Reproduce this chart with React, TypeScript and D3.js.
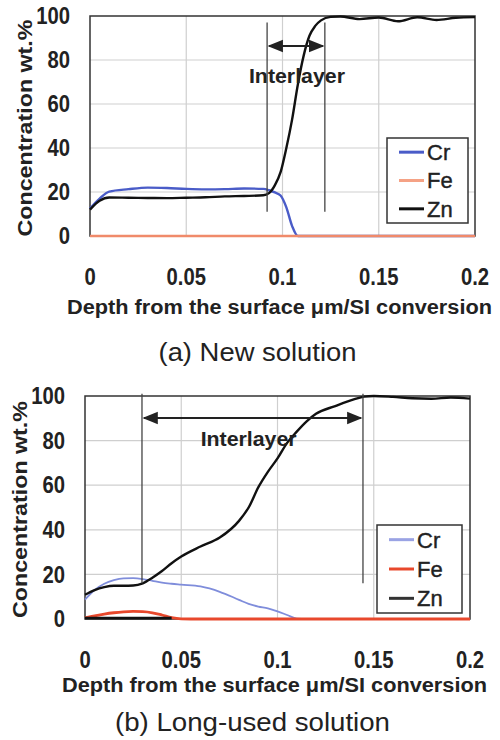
import React from 'react';
import * as d3 from 'd3';

// ---- panel (a): new solution ----
const depthA = [0, 0.005, 0.01, 0.02, 0.03, 0.04, 0.05, 0.06, 0.07, 0.08, 0.09, 0.093, 0.096, 0.099, 0.102, 0.105, 0.108, 0.111, 0.114, 0.117, 0.12, 0.125, 0.13, 0.14, 0.15, 0.16, 0.17, 0.18, 0.19, 0.2];
const znA = [12, 16, 17.5, 17.4, 17.3, 17.2, 17.4, 17.6, 18, 18.2, 18.5, 19.5, 23, 29, 40, 53, 69, 82, 91, 95.5, 98, 99.6, 99.8, 98.6, 99.3, 97.6, 99.4, 98.2, 99.2, 99.5];
const crA = [12.5, 17, 20.2, 21.3, 22, 21.8, 21.4, 21.2, 21.3, 21.6, 21.4, 20.8, 19.8, 18.4, 13, 4.5, 0, 0, 0, 0, 0, 0, 0, 0, 0, 0, 0, 0, 0, 0];
const feA = [0, 0, 0, 0, 0, 0, 0, 0, 0, 0, 0, 0, 0, 0, 0, 0, 0, 0, 0, 0, 0, 0, 0, 0, 0, 0, 0, 0, 0, 0];
const interA = [0.092, 0.122]; // interlayer bounds (depth)
const interSpanA = [11, 97]; // vertical extent of the marker lines (wt.%)

// ---- panel (b): long-used solution ----
const depthB = [0, 0.005, 0.01, 0.015, 0.02, 0.025, 0.03, 0.035, 0.04, 0.045, 0.05, 0.06, 0.07, 0.08, 0.085, 0.09, 0.095, 0.1, 0.105, 0.11, 0.115, 0.12, 0.13, 0.14, 0.145, 0.15, 0.16, 0.17, 0.18, 0.19, 0.2];
const znB = [10.9, 13, 14.3, 14.9, 14.9, 15, 16, 18.5, 21.5, 25, 28, 32.5, 36.5, 44, 50, 59, 66, 72, 79, 84, 88.5, 92, 95.5, 98.6, 99.7, 100, 99.6, 99, 98.8, 99.3, 98.8];
const crB = [8.7, 13, 15.8, 17.4, 18.2, 18.3, 17.9, 17.1, 16.3, 15.8, 15.4, 14.6, 12.2, 8.6, 6.8, 5.6, 4.8, 3.4, 1.8, 0.2, 0, 0, 0, 0, 0, 0, 0, 0, 0, 0, 0];
const feB = [0.5, 1.4, 2.2, 2.8, 3.2, 3.4, 3.3, 2.8, 1.8, 0.6, 0.1, 0, 0, 0, 0, 0, 0, 0, 0, 0, 0, 0, 0, 0, 0, 0, 0, 0, 0, 0, 0];
const residueB = [0.4, 0.4, 0.4, 0.4, 0.4, 0.4, 0.4, 0.4, 0.4, 0.4, NaN, NaN, NaN, NaN, NaN, NaN, NaN, NaN, NaN, NaN, NaN, NaN, NaN, NaN, NaN, NaN, NaN, NaN, NaN, NaN, NaN];
const interB = [0.0296, 0.1444];
const interSpanB = [16, 101];

const xTicks = [0, 0.05, 0.1, 0.15, 0.2];
const xTickLabels = ['0', '0.05', '0.1', '0.15', '0.2'];
const yTicks = [0, 20, 40, 60, 80, 100];
const legendNames = ['Cr', 'Fe', 'Zn'];

const FONT = "'Liberation Sans', Arial, sans-serif";

type Series = { values: number[]; color: string; width: number };

type PanelProps = {
  depth: number[];
  series: Series[];
  legendColors: string[];
  left: number;
  right: number;
  top: number;
  bottom: number;
  inter: number[];
  interSpan: number[];
  interLabel: [number, number];
  arrowY: number;
  legendBox: [number, number, number, number];
  tickDy: number;
  titleDy: number;
  subDy: number;
  subtitle: string;
  subWidth: number;
  id: string;
};

// narrow-ish tick label (the source uses a condensed face)
const Tick = ({ x, y, anchor, children }: { x: number; y: number; anchor: string; children: React.ReactNode }) => (
  <text
    transform={`translate(${x},${y}) scale(0.88,1)`}
    dy="0.36em"
    textAnchor={anchor}
    fontFamily={FONT}
    fontWeight="bold"
    fontSize={23}
    fill="#222"
  >
    {children}
  </text>
);

const Panel = (p: PanelProps) => {
  const x = d3.scaleLinear().domain([0, 0.2]).range([p.left, p.right]);
  const y = d3.scaleLinear().domain([0, 100]).range([p.bottom, p.top]);
  const line = (vals: number[]) =>
    d3
      .line<number>()
      .defined((d) => !isNaN(d))
      .x((_, i) => x(p.depth[i]))
      .y((d) => y(d))
      .curve(d3.curveMonotoneX)(vals) || '';

  const [lx0, ly0, lx1, ly1] = p.legendBox;
  const rowH = (ly1 - ly0) / 3;
  const cx = (p.left + p.right) / 2;

  return (
    <g>
      <defs>
        <marker id={'arr' + p.id} viewBox="0 0 10 10" refX="9" refY="5" markerWidth="7" markerHeight="7" orient="auto-start-reverse">
          <path d="M0,1 L10,5 L0,9 z" fill="#222" />
        </marker>
      </defs>
      <rect x={p.left} y={p.top} width={p.right - p.left} height={p.bottom - p.top} fill="#fff" />
      {yTicks.slice(1, -1).map((t) => (
        <line key={'gy' + t} x1={p.left} x2={p.right} y1={y(t)} y2={y(t)} stroke="#cfcfcf" strokeWidth={1.2} />
      ))}
      {xTicks.slice(1, -1).map((t) => (
        <line key={'gx' + t} x1={x(t)} x2={x(t)} y1={p.top} y2={p.bottom} stroke="#cfcfcf" strokeWidth={1.2} />
      ))}
      <rect x={p.left} y={p.top} width={p.right - p.left} height={p.bottom - p.top} fill="none" stroke="#333" strokeWidth={1.5} />
      {p.series.map((s, i) => (
        <path key={i} d={line(s.values)} fill="none" stroke={s.color} strokeWidth={s.width} strokeLinejoin="round" />
      ))}
      {p.inter.map((d, i) => (
        <line key={'iv' + i} x1={x(d)} x2={x(d)} y1={y(p.interSpan[1])} y2={y(p.interSpan[0])} stroke="#444" strokeWidth={1.3} />
      ))}
      <line
        x1={x(p.inter[0]) + 2}
        x2={x(p.inter[1]) - 2}
        y1={p.arrowY}
        y2={p.arrowY}
        stroke="#222"
        strokeWidth={2.2}
        markerStart={`url(#arr${p.id})`}
        markerEnd={`url(#arr${p.id})`}
      />
      <text
        x={x(p.interLabel[0])}
        y={y(p.interLabel[1])}
        dy="0.35em"
        textAnchor="middle"
        fontFamily={FONT}
        fontWeight="bold"
        fontSize={21}
        textLength={96}
        lengthAdjust="spacingAndGlyphs"
        fill="#222"
      >
        Interlayer
      </text>
      {/* legend */}
      <rect x={lx0} y={ly0} width={lx1 - lx0} height={ly1 - ly0} fill="#fff" stroke="#333" strokeWidth={1.5} />
      {legendNames.map((n, i) => {
        const cy = ly0 + rowH * (i + 0.5);
        return (
          <g key={n}>
            <line x1={lx0 + 12} x2={lx0 + 37} y1={cy} y2={cy} stroke={p.legendColors[i]} strokeWidth={3} />
            <text x={lx0 + 40} y={cy} dy="0.36em" fontFamily={FONT} fontSize={22} fill="#222" stroke="#222" strokeWidth={0.4}>
              {n}
            </text>
          </g>
        );
      })}
      {/* axes labels */}
      {yTicks.map((t) => (
        <Tick key={'ty' + t} x={p.left - 20} y={y(t)} anchor="end">
          {t}
        </Tick>
      ))}
      {xTicks.map((t, i) => (
        <Tick key={'tx' + t} x={x(t)} y={p.bottom + p.tickDy} anchor="middle">
          {xTickLabels[i]}
        </Tick>
      ))}
      <text
        transform={`translate(${p.left - 65},${(p.top + p.bottom) / 2 + 2}) rotate(-90)`}
        dy="0.36em"
        textAnchor="middle"
        fontFamily={FONT}
        fontWeight="bold"
        fontSize={20}
        textLength={217}
        lengthAdjust="spacingAndGlyphs"
        fill="#222"
      >
        Concentration wt.%
      </text>
      <text
        x={cx - 3}
        y={p.bottom + p.titleDy}
        dy="0.36em"
        textAnchor="middle"
        fontFamily={FONT}
        fontWeight="bold"
        fontSize={20}
        textLength={425}
        lengthAdjust="spacingAndGlyphs"
        fill="#222"
      >
        Depth from the surface μm/SI conversion
      </text>
      <text
        x={cx - 25}
        y={p.bottom + p.subDy}
        dy="0.36em"
        textAnchor="middle"
        fontFamily={FONT}
        fontSize={25}
        textLength={p.subWidth}
        lengthAdjust="spacingAndGlyphs"
        fill="#222"
      >
        {p.subtitle}
      </text>
    </g>
  );
};

export default function App() {
  return (
    <div style={{ position: 'absolute', left: 0, top: 0 }}>
      <svg width={500} height={740} style={{ display: 'block', background: '#fff' }}>
        <Panel
          id="a"
          depth={depthA}
          series={[
            { values: crA, color: '#4a5cc8', width: 2.4 },
            { values: feA, color: '#f08a6a', width: 2.6 },
            { values: znA, color: '#111', width: 2.4 },
          ]}
          legendColors={['#4a5cc8', '#f5a285', '#111']}
          left={90}
          right={475}
          top={16}
          bottom={236}
          inter={interA}
          interSpan={interSpanA}
          interLabel={[0.1075, 73]}
          arrowY={46}
          legendBox={[387, 138, 468, 223]}
          tickDy={41}
          titleDy={71}
          subDy={116}
          subtitle="(a) New solution"
          subWidth={198}
        />
        <Panel
          id="b"
          depth={depthB}
          series={[
            { values: crB, color: '#7f8ddb', width: 1.8 },
            { values: feB, color: '#e8482c', width: 2.8 },
            { values: residueB, color: '#111', width: 2.6 },
            { values: znB, color: '#111', width: 2.4 },
          ]}
          legendColors={['#9aa3e4', '#e8482c', '#333']}
          left={85}
          right={470}
          top={396}
          bottom={619}
          inter={interB}
          interSpan={interSpanB}
          interLabel={[0.085, 81]}
          arrowY={418}
          legendBox={[377, 525, 462, 613]}
          tickDy={41}
          titleDy={66}
          subDy={103}
          subtitle="(b) Long-used solution"
          subWidth={275}
        />
      </svg>
    </div>
  );
}
